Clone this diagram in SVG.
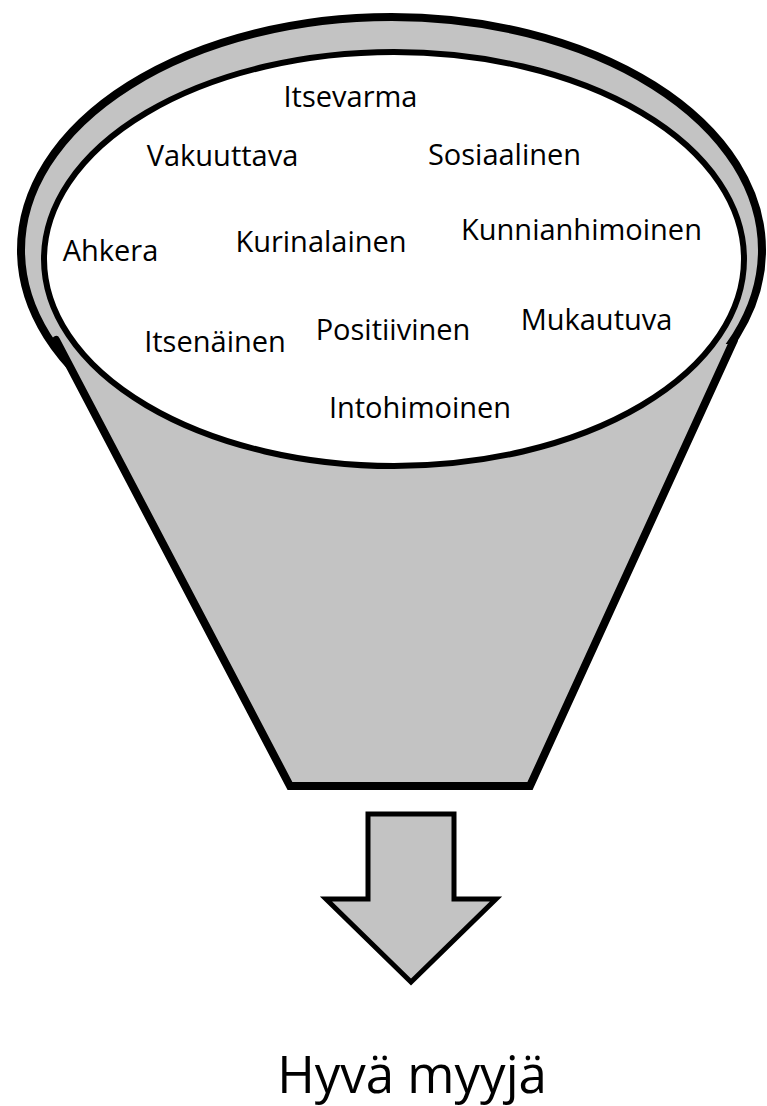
<svg xmlns="http://www.w3.org/2000/svg" width="767" height="1106" viewBox="0 0 767 1106">
  <style>
    .rim { fill: #c3c3c3; stroke: #000; stroke-width: 8; }
    .body { fill: #c3c3c3; stroke: none; }
    .side { fill: none; stroke: #000; stroke-width: 8; stroke-linejoin: miter; stroke-linecap: round; }
    .inner { fill: #fff; stroke: #000; stroke-width: 6; }
    .lbl { font-family: "Open Sans", "Liberation Sans", sans-serif; font-size: 29px; fill: #000; text-anchor: middle; }
    .big { font-family: "Open Sans", "Liberation Sans", sans-serif; font-size: 51px; fill: #000; text-anchor: middle; }
  </style>
  <rect width="767" height="1106" fill="#fff"/>
  <g id="funnel">
    <ellipse class="rim" cx="391.5" cy="250" rx="370.5" ry="233"/>
    <polygon class="body" points="60,346 290,786 530,786 732,344"/>
    <path class="side" d="M 56,340 L 290,786 L 530,786 L 734,340"/>
    <ellipse class="inner" cx="394" cy="259" rx="350" ry="207"/>
  </g>
  <g id="traits">
    <text class="lbl" x="350.5" y="107">Itsevarma</text>
    <text class="lbl" x="222.5" y="166">Vakuuttava</text>
    <text class="lbl" x="504.5" y="165">Sosiaalinen</text>
    <text class="lbl" x="110.5" y="261">Ahkera</text>
    <text class="lbl" x="321" y="252">Kurinalainen</text>
    <text class="lbl" x="581.5" y="240">Kunnianhimoinen</text>
    <text class="lbl" x="215" y="352">Itsenäinen</text>
    <text class="lbl" x="393" y="340">Positiivinen</text>
    <text class="lbl" x="596.5" y="330">Mukautuva</text>
    <text class="lbl" x="420" y="418">Intohimoinen</text>
  </g>
  <g id="connectors">
    <polygon id="arrow" points="368,814 454,814 454,899 496,899 411,982 326,899 368,899" fill="#c3c3c3" stroke="#000" stroke-width="5" stroke-linejoin="miter"/>
  </g>
  <g id="result">
    <text class="big" x="412" y="1093">Hyvä myyjä</text>
  </g>
</svg>
